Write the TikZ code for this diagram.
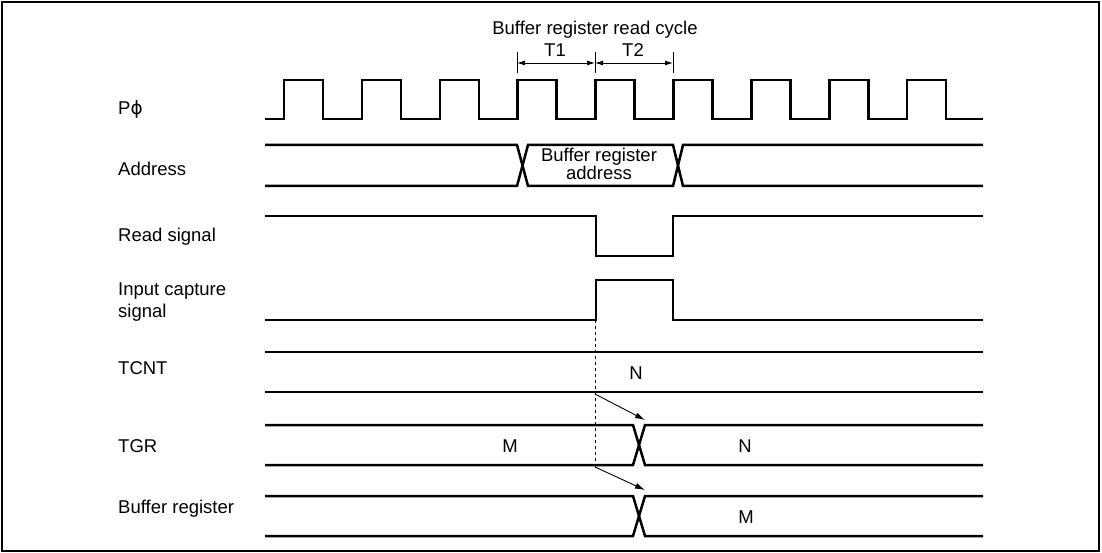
\documentclass[tikz,border=0pt]{standalone}
\usepackage{fontspec}
\setmainfont{Liberation Sans}
\newfontfamily\phifont{DejaVu Sans}
\usetikzlibrary{arrows.meta}

\begin{document}
\begin{tikzpicture}[x=1pt,y=-1pt,
    sig/.style={line width=2.5pt},
    lbl/.style={anchor=base west,align=left,inner sep=0pt},
    txt/.style={anchor=base,inner sep=0pt,align=center},
    dimarrow/.style={line width=0.9pt,{Latex[length=8pt,width=5pt]}-{Latex[length=8pt,width=5pt]}},
    cause/.style={line width=0.9pt,-{Latex[length=10pt,width=6pt]}},
    every node/.style={font=\fontsize{18.5}{22}\selectfont}]
    \useasboundingbox (0,0) rectangle (1102,553);
    \draw [line width=2.4pt] (2,2) rectangle (1099,551);

    % signal names
    \node (pphi) at (118,115) [lbl] {P{\phifont ϕ}};
    \node (addr) at (118,176) [lbl] {Address};
    \node (rd) at (118,241) [lbl] {Read signal};
    \node (icap) at (118,317) [lbl] {Input capture\\signal};
    \node (tcnt) at (118,374) [lbl] {TCNT};
    \node (tgr) at (118,452) [lbl] {TGR};
    \node (bufr) at (118,513) [lbl] {Buffer register};

    % read cycle
    \node (cycle) at (595,35) [txt] {Buffer register read cycle};
    \node (tone) at (555,57) [txt] {T1};
    \node (ttwo) at (633,57) [txt] {T2};
    \coordinate (c1) at (517,63);
    \coordinate (c2) at (595,63);
    \coordinate (c3) at (673,63);
    \draw [line width=0.9pt] (517,52) -- (517,73);
    \draw [line width=0.9pt] (595,52) -- (595,73);
    \draw [line width=0.9pt] (673,52) -- (673,73);
    \draw [dimarrow] (c1) -- (c2);
    \draw [dimarrow] (c2) -- (c3);

    % clock
    \draw [sig] (265,119) \foreach \k in {0,...,8} {
        -- ({284+77.9*\k},119) |- ({323+77.9*\k},80) -- ({323+77.9*\k},119)
      } -- (983,119);

    % address
    \draw [sig] (265,145) -- (517,145) -- (528,186) -- (673,186) -- (683,145) -- (983,145);
    \draw [sig] (265,186) -- (517,186) -- (528,145) -- (673,145) -- (683,186) -- (983,186);
    \node (baddr) at (599,180) [txt,font=\fontsize{18.5}{16.5}\selectfont] {Buffer register\\address};

    % read signal
    \draw [sig] (265,216) -- (596,216) -- (596,256) -- (673,256) -- (673,216) -- (983,216);

    % input capture signal
    \draw [sig] (265,320) -- (596,320) -- (596,280) -- (673,280) -- (673,320) -- (983,320);

    % TCNT
    \draw [sig] (265,352) -- (983,352);
    \draw [sig] (265,392) -- (983,392);
    \node (tcntn) at (636,379) [txt] {N};

    % TGR
    \draw [sig] (265,425) -- (633,425) -- (645,465) -- (983,465);
    \draw [sig] (265,465) -- (633,465) -- (645,425) -- (983,425);
    \node (tgrm) at (510,452) [txt] {M};
    \node (tgrn) at (745,452) [txt] {N};

    % buffer register
    \draw [sig] (265,496) -- (633,496) -- (645,536) -- (983,536);
    \draw [sig] (265,536) -- (633,536) -- (645,496) -- (983,496);
    \node (bufm) at (746,523) [txt] {M};

    % transfer
    \coordinate (cap) at (595,320);
    \coordinate (capend) at (595,467);
    \coordinate (fromcnt) at (595,394);
    \coordinate (totgr) at (645,420);
    \coordinate (fromtgr) at (595,467);
    \coordinate (tobuf) at (645,490);
    \draw [dashed,line width=0.9pt] (cap) -- (capend);
    \draw [cause] (fromcnt) -- (totgr);
    \draw [cause] (fromtgr) -- (tobuf);
\end{tikzpicture}
\end{document}
